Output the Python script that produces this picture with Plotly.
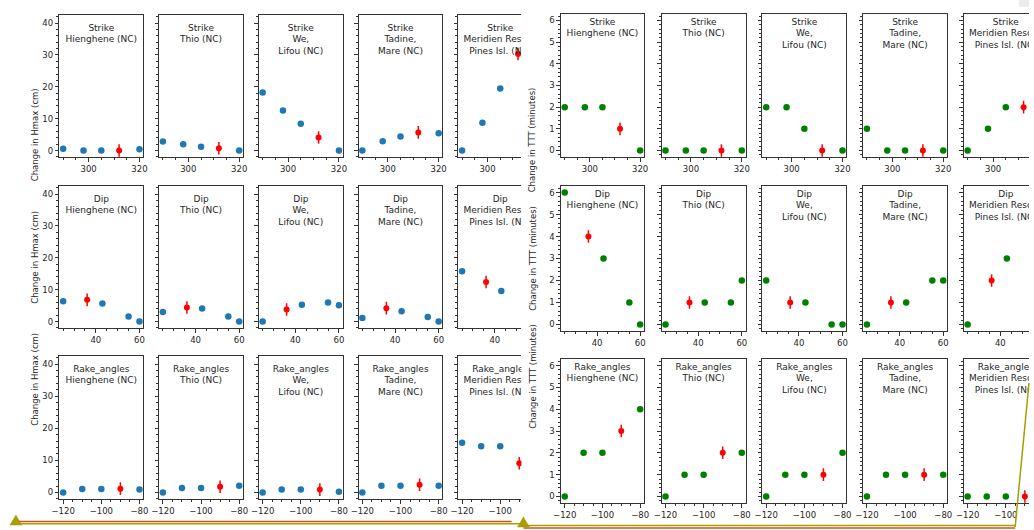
import plotly.graph_objects as go

# ---- data -------------------------------------------------------------
sites = ["Hienghene (NC)", "Thio (NC)", "We,<br>Lifou (NC)",
         "Tadine,<br>Mare (NC)", "Meridien Resort,<br>Pines Isl. (NC)"]
param_names = ["Strike", "Dip", "Rake_angles"]

strike_angles = [290, 298, 305, 312, 320]
dip_angles = [25, 36, 43, 55, 60]
rake_angles = [-120, -110, -100, -90, -80]
reference_angles = [312, 36, -90]   # reference scenario, drawn in red

# change in maximum wave height (cm), one list per site
hmax_strike = [
    [0.6, 0.0, 0.0, 0.0, 0.4],
    [2.8, 2.0, 1.2, 0.7, 0.0],
    [18.2, 12.6, 8.4, 4.1, 0.0],
    [0.0, 2.9, 4.4, 5.7, 5.4],
    [0.0, 8.7, 19.5, 30.3, 40.5],
]
hmax_dip = [
    [6.4, 6.8, 5.7, 1.6, 0.0],
    [3.0, 4.4, 4.1, 1.6, 0.0],
    [0.0, 3.8, 5.3, 6.0, 5.1],
    [1.1, 4.2, 3.2, 1.4, 0.0],
    [15.8, 12.4, 9.6, 1.5, 0.0],
]
hmax_rake = [
    [0.0, 1.1, 1.1, 1.2, 0.9],
    [0.0, 1.4, 1.4, 1.8, 2.1],
    [0.0, 0.9, 0.9, 0.9, 0.2],
    [0.0, 2.1, 2.1, 2.4, 2.1],
    [15.5, 14.4, 14.4, 9.1, 8.0],
]

# change in tsunami travel time (minutes), one list per site
ttt_strike = [
    [2, 2, 2, 1, 0],
    [0, 0, 0, 0, 0],
    [2, 2, 1, 0, 0],
    [1, 0, 0, 0, 0],
    [0, 1, 2, 2, 3],
]
ttt_dip = [
    [6, 4, 3, 1, 0],
    [0, 1, 1, 1, 2],
    [2, 1, 1, 0, 0],
    [0, 1, 1, 2, 2],
    [0, 2, 3, 3, 3],
]
ttt_rake = [
    [0, 2, 2, 3, 4],
    [0, 1, 1, 2, 2],
    [0, 1, 1, 1, 2],
    [0, 1, 1, 1, 1],
    [0, 0, 0, 0, 0],
]

x_ticks = [[300, 320], [40, 60], [-120, -100, -80]]
x_minor = [5, 5, 5]

# ---- page geometry (pixels) ------------------------------------------
W, H = 1034, 530
panels = [
    dict(cols=[(52, 137), (153, 238), (254, 339), (355, 440), (456, 541)],
         rows=[(15, 157), (186, 328), (356, 499)], cut=520,
         data=[hmax_strike, hmax_dip, hmax_rake], color="#1f77b4",
         ylabel="Change in Hmax (cm)", ylabel_x=20,
         yticks=[0, 10, 20, 30, 40], yminor=2, title_off=9),
    dict(cols=[(560, 644), (662, 747), (764, 849), (866, 951), (968, 1053)],
         rows=[(14, 157), (186, 331), (359, 503)], cut=1034,
         data=[ttt_strike, ttt_dip, ttt_rake], color="green",
         ylabel="Change in TTT (minutes)", ylabel_x=531,
         yticks=[0, 1, 2, 3, 4, 5, 6], yminor=0.2, title_off=4),
]
angles = [strike_angles, dip_angles, rake_angles]

FONT = "DejaVu Sans"
TXT = "#262626"
fig = go.Figure()
layout = {}
annotations = []
n = 0


def padded(lo, hi, frac=0.05):
    s = hi - lo
    return lo - frac * s, hi + frac * s


for p in panels:
    all_vals = [v for block in p["data"] for site in block for v in site]
    ylo, yhi = padded(min(all_vals), max(all_vals))
    for r, (y0, y1) in enumerate(p["rows"]):
        xs = angles[r]
        xlo, xhi = padded(min(xs), max(xs))
        ref = reference_angles[r]
        for c, (x0, x1) in enumerate(p["cols"]):
            n += 1
            xa = "x" if n == 1 else f"x{n}"
            ya = "y" if n == 1 else f"y{n}"
            vals = p["data"][r][c]
            truncated = x1 > p["cut"]
            x1v = min(x1, p["cut"])
            frac = (x1v - x0) / (x1 - x0)
            xr = [xlo, xlo + (xhi - xlo) * frac]

            other_x = [a for a in xs if a != ref]
            other_y = [v for a, v in zip(xs, vals) if a != ref]
            ref_y = [v for a, v in zip(xs, vals) if a == ref]
            fig.add_trace(go.Scatter(
                x=other_x, y=other_y, mode="markers", xaxis=xa, yaxis=ya,
                marker=dict(color=p["color"], size=6.5, line=dict(width=0)),
                showlegend=False, cliponaxis=True))
            # reference scenario: red dot with a short vertical bar
            fig.add_trace(go.Scatter(
                x=[ref], y=ref_y, mode="markers", xaxis=xa, yaxis=ya,
                marker=dict(color="red", size=9, symbol="line-ns",
                            line=dict(width=1.5, color="red")),
                showlegend=False, cliponaxis=True))
            fig.add_trace(go.Scatter(
                x=[ref], y=ref_y, mode="markers", xaxis=xa, yaxis=ya,
                marker=dict(color="red", size=6, line=dict(width=0)),
                showlegend=False, cliponaxis=True))
            # panel title, clipped to the axes like the scatter marks
            off = p["title_off"] * (yhi - ylo) / (y1 - y0)
            fig.add_trace(go.Scatter(
                x=[(xlo + xhi) / 2], y=[yhi - off], mode="text",
                text=[f"{param_names[r]}<br>{sites[c]}"],
                textposition="bottom center", xaxis=xa, yaxis=ya,
                textfont=dict(family=FONT, size=9, color=TXT),
                showlegend=False, cliponaxis=True, hoverinfo="skip"))

            tickfont = dict(family=FONT, size=8.5, color=TXT)
            layout["xaxis" if n == 1 else f"xaxis{n}"] = dict(
                domain=[x0 / W, x1v / W], anchor=ya, range=xr,
                tickmode="array", tickvals=x_ticks[r], ticks="outside",
                ticklen=3.5, tickwidth=1, tickcolor="#333",
                minor=dict(dtick=x_minor[r], ticks="outside", ticklen=2,
                           tickcolor="#333", showgrid=False),
                showline=True, linecolor="#333", linewidth=1, mirror=True,
                showgrid=False, zeroline=False, tickfont=tickfont)
            layout["yaxis" if n == 1 else f"yaxis{n}"] = dict(
                domain=[1 - y1 / H, 1 - y0 / H], anchor=xa, range=[ylo, yhi],
                tickmode="array", tickvals=p["yticks"], ticks="outside",
                ticklen=3.5, tickwidth=1, tickcolor="#333",
                minor=dict(dtick=p["yminor"], ticks="outside", ticklen=2,
                           tickcolor="#333", showgrid=False),
                showline=True, linecolor="#333", linewidth=1,
                mirror=not truncated, showticklabels=(c == 0),
                showgrid=False, zeroline=False, tickfont=tickfont)
        annotations.append(dict(
            text=p["ylabel"], textangle=-90, xref="paper", yref="paper",
            x=p["ylabel_x"] / W, y=1 - (y0 + y1) / 2 / H, showarrow=False,
            font=dict(family=FONT, size=8.5, color=TXT)))

# connector arrows along the bottom of the page
OLIVE = "#a99d00"
ORANGE = "#c4561f"


def px(x, y):
    return f"{x / W:.5f},{1 - y / H:.5f}"


shapes = [
    dict(type="line", xref="paper", yref="paper", x0=10 / W, x1=510 / W,
         y0=1 - 521.5 / H, y1=1 - 521.5 / H, line=dict(color=ORANGE, width=1.5)),
    dict(type="line", xref="paper", yref="paper", x0=10 / W, x1=520 / W,
         y0=1 - 523.8 / H, y1=1 - 523.8 / H, line=dict(color=OLIVE, width=1.5)),
    dict(type="path", xref="paper", yref="paper",
         path=f"M{px(8, 515)} L{px(2, 525)} L{px(14, 525)} Z",
         fillcolor=OLIVE, line=dict(color=OLIVE, width=0.5)),
    dict(type="line", xref="paper", yref="paper", x0=522 / W, x1=1020 / W,
         y0=1 - 525.5 / H, y1=1 - 525.5 / H, line=dict(color=OLIVE, width=1.5)),
    dict(type="line", xref="paper", yref="paper", x0=522 / W, x1=1020 / W,
         y0=1 - 528 / H, y1=1 - 528 / H, line=dict(color=ORANGE, width=1.5)),
    dict(type="path", xref="paper", yref="paper",
         path=f"M{px(522, 517)} L{px(516, 527)} L{px(528, 527)} Z",
         fillcolor=OLIVE, line=dict(color=OLIVE, width=0.5)),
    dict(type="line", xref="paper", yref="paper", x0=1020 / W, x1=1034 / W,
         y0=1 - 527 / H, y1=1 - 383 / H, line=dict(color=OLIVE, width=1.5)),
    dict(type="rect", xref="paper", yref="paper", x0=1024 / W, x1=1,
         y0=1 - 7 / H, y1=1, fillcolor="#ececec", line=dict(width=0)),
]

fig.update_layout(
    width=W, height=H, margin=dict(l=0, r=0, t=0, b=0),
    paper_bgcolor="white", plot_bgcolor="white",
    annotations=annotations, shapes=shapes, showlegend=False,
    **layout)

fig.write_html("out.html")
